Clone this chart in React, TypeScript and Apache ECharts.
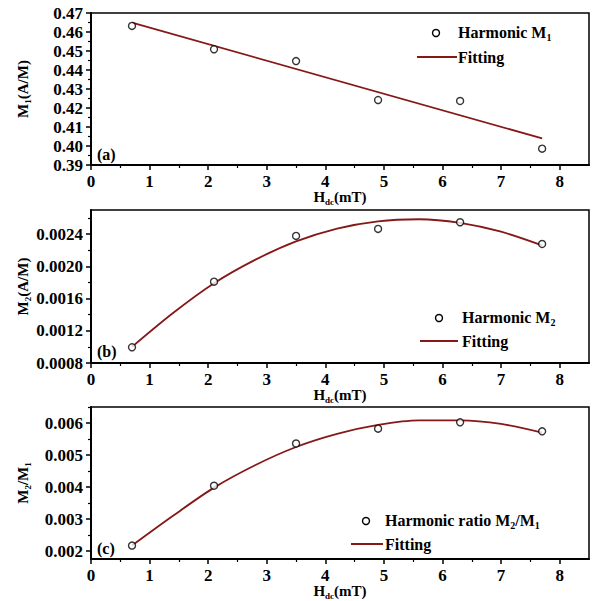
import React, { useEffect, useRef } from "react";
import * as echarts from "echarts";

const FONT = "Liberation Serif";
const FIT_COLOR = "#861818";

// measured data
const xValues = [0.7, 2.1, 3.5, 4.9, 6.3, 7.7];
const m1Values = [0.4632, 0.4509, 0.4447, 0.4242, 0.4237, 0.3986];
const m2Values = [0.000995, 0.00181, 0.002378, 0.002465, 0.002548, 0.002278];
const ratioValues = [0.00217, 0.00404, 0.00536, 0.005824, 0.00602, 0.00574];

// fitting curves
const m1FitX = [0.7, 7.7];
const m1Fit = [0.4649, 0.404];
const fitX = [0.7, 1.4, 2.1, 2.8, 3.5, 4.2, 4.9, 5.6, 6.3, 7.0, 7.7];
const m2Fit = [0.001, 0.00142, 0.00179, 0.00208, 0.00231, 0.00247, 0.00256, 0.002585, 0.00254, 0.00243, 0.00226];
const ratioFit = [0.00217, 0.0031, 0.00398, 0.00468, 0.00525, 0.00566, 0.00594, 0.00608, 0.00608, 0.00597, 0.0057];

// ticks
const xTicks = [0, 1, 2, 3, 4, 5, 6, 7, 8];
const xMinorTicks = [0.5, 1.5, 2.5, 3.5, 4.5, 5.5, 6.5, 7.5];
const m1Ticks = [0.39, 0.4, 0.41, 0.42, 0.43, 0.44, 0.45, 0.46, 0.47];
const m1MinorTicks = [0.395, 0.405, 0.415, 0.425, 0.435, 0.445, 0.455, 0.465];
const m2Ticks = [0.0008, 0.0012, 0.0016, 0.002, 0.0024];
const m2MinorTicks = [0.001, 0.0014, 0.0018, 0.0022, 0.0026];
const ratioTicks = [0.002, 0.003, 0.004, 0.005, 0.006];
const ratioMinorTicks = [0.0025, 0.0035, 0.0045, 0.0055, 0.0065];

const xRange = [0, 8.5];
const m1Range = [0.39, 0.47];
const m2Range = [0.0008, 0.0027];
const ratioRange = [0.00175, 0.0065];

const richName = {
  h: { fontSize: 15, fontWeight: "bold", fontFamily: FONT, color: "#000" },
  s: { fontSize: 9, fontWeight: "bold", fontFamily: FONT, color: "#000", verticalAlign: "bottom", padding: [10, 0, 0, 0] },
};

const richLegend = {
  h: { fontSize: 16, fontWeight: "bold", fontFamily: FONT, color: "#000" },
  s: { fontSize: 10, fontWeight: "bold", fontFamily: FONT, color: "#000", verticalAlign: "bottom", padding: [10, 0, 0, 0] },
};

const grids = [
  { left: 91, top: 13, width: 498, height: 152 },
  { left: 91, top: 210, width: 498, height: 153 },
  { left: 91, top: 407, width: 498, height: 154 },
];

function App() {
  const ref = useRef<HTMLDivElement>(null);
  useEffect(() => {
    if (!ref.current) return;
    const chart = echarts.init(ref.current, null, { renderer: "svg" });

    const xAxes: any[] = [];
    const yAxes: any[] = [];
    const yConf = [
      { range: m1Range, ticks: m1Ticks, minor: m1MinorTicks, dec: 2, name: "{h|M}{s|1}{h|(A/M)}" },
      { range: m2Range, ticks: m2Ticks, minor: m2MinorTicks, dec: 4, name: "{h|M}{s|2}{h|(A/M)}" },
      { range: ratioRange, ticks: ratioTicks, minor: ratioMinorTicks, dec: 3, name: "{h|M}{s|2}{h|/M}{s|1}" },
    ];
    for (let g = 0; g < 3; g++) {
      xAxes.push({
        type: "value",
        gridIndex: g,
        position: "bottom",
        min: xRange[0],
        max: xRange[1],
        name: "{h|H}{s|dc}{h|(mT)}",
        nameLocation: "middle",
        nameGap: 22,
        nameMoveOverlap: false,
        nameTextStyle: { rich: richName },
        axisLine: { show: true, onZero: false, lineStyle: { color: "#000", width: 2 } },
        axisTick: { show: true, length: 5, customValues: xTicks, lineStyle: { color: "#000", width: 1.5 } },
        axisLabel: {
          customValues: xTicks,
          margin: 8,
          fontSize: 17,
          fontWeight: "bold",
          fontFamily: FONT,
          color: "#000",
          formatter: (v: number) => String(v),
        },
        splitLine: { show: false },
      });
      xAxes.push({
        type: "value",
        gridIndex: g,
        position: "bottom",
        min: xRange[0],
        max: xRange[1],
        axisLine: { show: false, onZero: false },
        axisTick: { show: true, length: 3, customValues: xMinorTicks, lineStyle: { color: "#000", width: 1.2 } },
        axisLabel: { show: false },
        splitLine: { show: false },
      });
      const c = yConf[g];
      yAxes.push({
        type: "value",
        gridIndex: g,
        position: "left",
        min: c.range[0],
        max: c.range[1],
        name: c.name,
        nameLocation: "middle",
        nameGap: 59,
        nameMoveOverlap: false,
        nameTextStyle: { rich: richName },
        axisLine: { show: true, onZero: false, lineStyle: { color: "#000", width: 2 } },
        axisTick: { show: true, length: 5, customValues: c.ticks, lineStyle: { color: "#000", width: 1.5 } },
        axisLabel: {
          customValues: c.ticks,
          margin: 8,
          fontSize: 17,
          fontWeight: "bold",
          fontFamily: FONT,
          color: "#000",
          formatter: (v: number) => v.toFixed(c.dec),
        },
        splitLine: { show: false },
      });
      yAxes.push({
        type: "value",
        gridIndex: g,
        position: "left",
        min: c.range[0],
        max: c.range[1],
        axisLine: { show: false, onZero: false },
        axisTick: { show: true, length: 3, customValues: c.minor, lineStyle: { color: "#000", width: 1.2 } },
        axisLabel: { show: false },
        splitLine: { show: false },
      });
    }

    const scatterStyle = {
      type: "scatter",
      symbol: "circle",
      symbolSize: 7,
      itemStyle: { color: "#fff", borderColor: "#000", borderWidth: 1.4 },
      z: 5,
    };
    const lineStyle = {
      type: "line",
      showSymbol: false,
      symbol: "none",
      lineStyle: { color: FIT_COLOR, width: 1.8 },
      z: 3,
    };

    const series: any[] = [
      { ...scatterStyle, xAxisIndex: 0, yAxisIndex: 0, data: xValues.map((x, i) => [x, m1Values[i]]) },
      { ...lineStyle, xAxisIndex: 0, yAxisIndex: 0, data: m1FitX.map((x, i) => [x, m1Fit[i]]) },
      { ...scatterStyle, xAxisIndex: 2, yAxisIndex: 2, data: xValues.map((x, i) => [x, m2Values[i]]) },
      { ...lineStyle, smooth: 0.3, xAxisIndex: 2, yAxisIndex: 2, data: fitX.map((x, i) => [x, m2Fit[i]]) },
      { ...scatterStyle, xAxisIndex: 4, yAxisIndex: 4, data: xValues.map((x, i) => [x, ratioValues[i]]) },
      { ...lineStyle, smooth: 0.3, xAxisIndex: 4, yAxisIndex: 4, data: fitX.map((x, i) => [x, ratioFit[i]]) },
    ];

    const legendCircle = (cx: number, cy: number) => ({
      type: "circle",
      shape: { cx, cy, r: 3.5 },
      style: { fill: "#fff", stroke: "#000", lineWidth: 1.4 },
      z: 10,
    });
    const legendLine = (x1: number, x2: number, y: number) => ({
      type: "line",
      shape: { x1, y1: y, x2, y2: y },
      style: { stroke: FIT_COLOR, lineWidth: 2 },
      z: 10,
    });
    const legendText = (x: number, y: number, text: string) => ({
      type: "text",
      x,
      y,
      style: { text, rich: richLegend, verticalAlign: "middle", align: "left" },
      z: 10,
    });
    const panelLabel = (x: number, y: number, text: string) => ({
      type: "text",
      x,
      y,
      style: { text, fontSize: 16, fontWeight: "bold", fontFamily: FONT, fill: "#000", verticalAlign: "middle" },
      z: 10,
    });

    const graphic = [
      legendCircle(436, 33),
      legendText(458, 32, "{h|Harmonic M}{s|1}"),
      legendLine(417, 457, 57),
      legendText(458, 57, "{h|Fitting}"),
      legendCircle(439, 318),
      legendText(462, 317, "{h|Harmonic M}{s|2}"),
      legendLine(420, 458, 341),
      legendText(462, 341, "{h|Fitting}"),
      legendCircle(366, 521),
      legendText(385, 520, "{h|Harmonic ratio M}{s|2}{h|/M}{s|1}"),
      legendLine(351, 383, 544),
      legendText(385, 544, "{h|Fitting}"),
      panelLabel(97, 154, "(a)"),
      panelLabel(97, 351, "(b)"),
      panelLabel(97, 548, "(c)"),
    ];

    chart.setOption({
      animation: false,
      backgroundColor: "#fff",
      grid: grids.map((g) => ({ ...g, show: true, borderColor: "#000", borderWidth: 1.5, backgroundColor: "transparent" })),
      xAxis: xAxes,
      yAxis: yAxes,
      series,
      graphic,
    });
    return () => chart.dispose();
  }, []);
  return (
    <div
      ref={ref}
      style={{ position: "absolute", left: 0, top: 0, width: 593, height: 601, background: "#fff" }}
    />
  );
}

export default App;
